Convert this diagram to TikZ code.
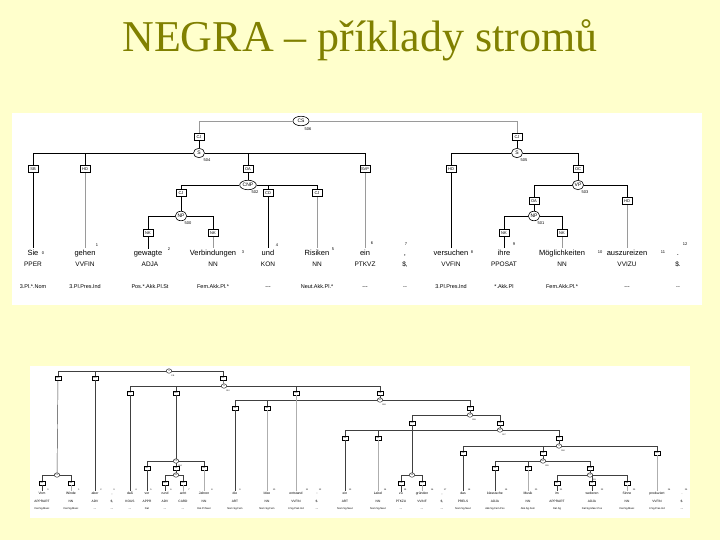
\documentclass[tikz,border=0pt]{standalone}
\usepackage{fontspec}
\setmainfont{Liberation Serif}
\newfontfamily\trf{Liberation Sans}
\usetikzlibrary{shapes.geometric}
\definecolor{bgy}{HTML}{FFFFCC}
\definecolor{olv}{HTML}{808000}
\definecolor{lg}{HTML}{9A9A9A}
\tikzset{
 ubox/.style={draw, fill=white, line width=0.6pt, inner sep=0.8pt, minimum width=10pt, minimum height=7.5pt, font=\trf\fontsize{4}{4}\selectfont},
 ucat/.style={draw, ellipse, fill=white, line width=0.6pt, inner sep=0.6pt, minimum width=11pt, minimum height=9.5pt, font=\trf\fontsize{5}{5}\selectfont},
 unum/.style={font=\trf\fontsize{4}{4}\selectfont, inner sep=0pt},
 uword/.style={font=\trf\fontsize{7.5}{7.5}\selectfont, inner sep=1pt, anchor=base},
 upos/.style={font=\trf\fontsize{6.5}{6.5}\selectfont, inner sep=0pt, anchor=base},
 umor/.style={font=\trf\fontsize{5.5}{5.5}\selectfont, inner sep=0pt, anchor=base},
 uidx/.style={font=\trf\fontsize{4}{4}\selectfont, inner sep=0pt},
 ue/.style={line width=0.9pt, black},
 ueg/.style={line width=0.9pt, lg},
 uet/.style={line width=0.5pt, lg},
 lbox/.style={draw, fill=white, line width=0.35pt, inner sep=0.4pt, minimum width=5.5pt, minimum height=4pt, font=\trf\fontsize{2}{2}\selectfont},
 lcat/.style={draw, ellipse, fill=white, line width=0.35pt, inner sep=0.4pt, minimum width=5.5pt, minimum height=4.5pt, font=\trf\fontsize{2.2}{2.2}\selectfont},
 lnum/.style={font=\trf\fontsize{2}{2}\selectfont, inner sep=0pt},
 lword/.style={font=\trf\fontsize{3.4}{3.4}\selectfont, inner sep=0.5pt, anchor=base},
 lpos/.style={font=\trf\fontsize{3.2}{3.2}\selectfont, inner sep=0pt, anchor=base},
 lmor/.style={font=\trf\fontsize{2.6}{2.6}\selectfont, inner sep=0pt, anchor=base},
 lidx/.style={font=\trf\fontsize{2.2}{2.2}\selectfont, inner sep=0pt},
 le/.style={line width=0.45pt, black!75},
 leg/.style={line width=0.45pt, lg!80},
}
\begin{document}
\begin{tikzpicture}[x=1pt,y=-1pt]
\useasboundingbox (0,0) rectangle (720,540);
\fill[bgy] (0,0) rectangle (720,540);
\node[font=\fontsize{44}{44}\selectfont, text=olv, anchor=base, inner sep=0pt] (title) at (360,52) {NEGRA – příklady stromů};
\fill[white] (12,113) rectangle (702,305);
\fill[white] (30,366) rectangle (690,518);

% ================= upper tree =================
% words
\node[uword] (w0) at (33,255) {Sie};
\node[uword] (w1) at (85,255) {gehen};
\node[uword] (w2) at (148,255) {gewagte};
\node[uword] (w3) at (213,255) {Verbindungen};
\node[uword] (w4) at (268,255) {und};
\node[uword] (w5) at (317,255) {Risiken};
\node[uword] (w6) at (365,255) {ein};
\node[uword] (w7) at (405,255) {,};
\node[uword] (w8) at (451,255) {versuchen};
\node[uword] (w9) at (504,255) {ihre};
\node[uword] (w10) at (562,255) {Möglichkeiten};
\node[uword] (w11) at (627,255) {auszureizen};
\node[uword] (w12) at (678,255) {.};
% POS
\node[upos] (p0) at (33,266) {PPER};
\node[upos] (p1) at (85,266) {VVFIN};
\node[upos] (p2) at (150,266) {ADJA};
\node[upos] (p3) at (213,266) {NN};
\node[upos] (p4) at (268,266) {KON};
\node[upos] (p5) at (317,266) {NN};
\node[upos] (p6) at (365,266) {PTKVZ};
\node[upos] (p7) at (405,266) {\$,};
\node[upos] (p8) at (451,266) {VVFIN};
\node[upos] (p9) at (504,266) {PPOSAT};
\node[upos] (p10) at (562,266) {NN};
\node[upos] (p11) at (627,266) {VVIZU};
\node[upos] (p12) at (678,266) {\$.};
% morphology
\node[umor] (m0) at (33,288) {3.Pl.*.Nom};
\node[umor] (m1) at (85,288) {3.Pl.Pres.Ind};
\node[umor] (m2) at (150,288) {Pos.*.Akk.Pl.St};
\node[umor] (m3) at (213,288) {Fem.Akk.Pl.*};
\node[umor] (m4) at (268,288) {---};
\node[umor] (m5) at (317,288) {Neut.Akk.Pl.*};
\node[umor] (m6) at (365,288) {---};
\node[umor] (m7) at (405,288) {-{}-};
\node[umor] (m8) at (451,288) {3.Pl.Pres.Ind};
\node[umor] (m9) at (504,288) {*.Akk.Pl};
\node[umor] (m10) at (562,288) {Fem.Akk.Pl.*};
\node[umor] (m11) at (627,288) {---};
\node[umor] (m12) at (678,288) {-{}-};
% indices
\node[uidx] (i0) at (43,253) {0};
\node[uidx] (i1) at (97,245) {1};
\node[uidx] (i2) at (169,249) {2};
\node[uidx] (i3) at (243,252) {3};
\node[uidx] (i4) at (277,245) {4};
\node[uidx] (i5) at (333,249) {5};
\node[uidx] (i6) at (372,243) {6};
\node[uidx] (i7) at (406,244) {7};
\node[uidx] (i8) at (472,252) {8};
\node[uidx] (i9) at (514,244) {9};
\node[uidx] (i10) at (600,252) {10};
\node[uidx] (i11) at (663,252) {11};
\node[uidx] (i12) at (685,244) {12};

% inner nodes
\node[ucat, minimum width=16pt] (CS) at (301,121) {CS};
\node[unum] at (308,129) {506};
\node[ubox] (cj1) at (199,137) {CJ};
\node[ubox] (cj2) at (517,137) {CJ};
\node[ucat] (S1) at (199,153) {S};
\node[unum] at (207,160) {504};
\node[ucat] (S2) at (517,153) {S};
\node[unum] at (524,160) {505};
\node[ubox] (sb) at (33,169) {SB};
\node[ubox] (hd1) at (85,169) {HD};
\node[ubox] (oa1) at (248,169) {OA};
\node[ubox] (svp) at (365,169) {SVP};
\node[ucat] (CNP) at (248,185) {CNP};
\node[unum] at (255,192) {502};
\node[ubox] (cj3) at (181,193) {CJ};
\node[ubox] (cd) at (268,193) {CD};
\node[ubox] (cj4) at (317,193) {CJ};
\node[ucat] (NP1) at (181,216) {NP};
\node[unum] at (188,223) {500};
\node[ubox] (nk1) at (148,233) {NK};
\node[ubox] (nk2) at (213,233) {NK};
\node[ubox] (hd2) at (451,169) {HD};
\node[ubox] (oc) at (578,169) {OC};
\node[ucat] (VP) at (578,185) {VP};
\node[unum] at (585,192) {503};
\node[ubox] (oa2) at (534,201) {OA};
\node[ubox] (hd3) at (627,201) {HD};
\node[ucat] (NP2) at (534,216) {NP};
\node[unum] at (541,223) {501};
\node[ubox] (nk3) at (504,233) {NK};
\node[ubox] (nk4) at (562,233) {NK};

% edges
\draw[uet] (CS) -| (cj1);
\draw[uet] (CS) -| (cj2);
\draw[ue] (cj1) -- (S1);
\draw[ue] (cj2) -- (S2);
\draw[ue] (S1) -| (sb);
\draw[ue] (S1) -| (hd1);
\draw[ue] (S1) -| (oa1);
\draw[ue] (S1) -| (svp);
\draw[ue] (oa1) -- (CNP);
\draw[ue] (CNP) -| (cj3);
\draw[ue] (CNP) -| (cd);
\draw[ue] (CNP) -| (cj4);
\draw[ue] (cj3) -- (NP1);
\draw[ue] (NP1) -| (nk1);
\draw[ue] (NP1) -| (nk2);
\draw[ue] (S2) -| (hd2);
\draw[ue] (S2) -| (oc);
\draw[ue] (oc) -- (VP);
\draw[ue] (VP) -| (oa2);
\draw[ue] (VP) -| (hd3);
\draw[ue] (oa2) -- (NP2);
\draw[ue] (NP2) -| (nk3);
\draw[ue] (NP2) -| (nk4);
% to words
\draw[ue] (sb) -- (w0);
\draw[ueg] (hd1) -- (w1);
\draw[ue] (nk1) -- (w2);
\draw[ueg] (nk2) -- (w3);
\draw[ue] (cd) -- (w4);
\draw[ueg] (cj4) -- (w5);
\draw[ueg] (svp) -- (w6);
\draw[ue] (hd2) -- (w8);
\draw[ue] (nk3) -- (w9);
\draw[ueg] (nk4) -- (w10);
\draw[ueg] (hd3) -- (w11);

% ================= lower tree =================
% words
\node[lword] (a0) at (42,494) {Vom};
\node[lword] (a1) at (71,494) {Winde};
\node[lword] (a2) at (95,494) {aber};
\node[lword] (a3) at (112,494) {,};
\node[lword] (a4) at (130,494) {daß};
\node[lword] (a5) at (147,494) {vor};
\node[lword] (a6) at (165,494) {rund};
\node[lword] (a7) at (183,494) {acht};
\node[lword] (a8) at (204,494) {Jahren};
\node[lword] (a9) at (235,494) {die};
\node[lword] (a10) at (267,494) {Idee};
\node[lword] (a11) at (296,494) {entstand};
\node[lword] (a12) at (317,494) {:};
\node[lword] (a13) at (345,494) {ein};
\node[lword] (a14) at (378,494) {Label};
\node[lword] (a15) at (401,494) {zu};
\node[lword] (a16) at (422,494) {gründen};
\node[lword] (a17) at (442,494) {,};
\node[lword] (a18) at (463,494) {das};
\node[lword] (a19) at (495,494) {klassische};
\node[lword] (a20) at (528,494) {Musik};
\node[lword] (a21) at (557,494) {im};
\node[lword] (a22) at (592,494) {weiteren};
\node[lword] (a23) at (627,494) {Sinne};
\node[lword] (a24) at (657,494) {produziert};
\node[lword] (a25) at (682,494) {.};
% POS
\node[lpos] (b0) at (42,502) {APPRART};
\node[lpos] (b1) at (71,502) {NN};
\node[lpos] (b2) at (95,502) {ADV};
\node[lpos] (b3) at (112,502) {\$,};
\node[lpos] (b4) at (130,502) {KOUS};
\node[lpos] (b5) at (147,502) {APPR};
\node[lpos] (b6) at (165,502) {ADV};
\node[lpos] (b7) at (183,502) {CARD};
\node[lpos] (b8) at (204,502) {NN};
\node[lpos] (b9) at (235,502) {ART};
\node[lpos] (b10) at (267,502) {NN};
\node[lpos] (b11) at (296,502) {VVFIN};
\node[lpos] (b12) at (317,502) {\$.};
\node[lpos] (b13) at (345,502) {ART};
\node[lpos] (b14) at (378,502) {NN};
\node[lpos] (b15) at (401,502) {PTKZU};
\node[lpos] (b16) at (422,502) {VVINF};
\node[lpos] (b17) at (442,502) {\$,};
\node[lpos] (b18) at (463,502) {PRELS};
\node[lpos] (b19) at (495,502) {ADJA};
\node[lpos] (b20) at (528,502) {NN};
\node[lpos] (b21) at (557,502) {APPRART};
\node[lpos] (b22) at (592,502) {ADJA};
\node[lpos] (b23) at (627,502) {NN};
\node[lpos] (b24) at (657,502) {VVFIN};
\node[lpos] (b25) at (682,502) {\$.};
% morphology
\node[lmor] (c0) at (42,509) {Dat.Sg.Masc};
\node[lmor] (c1) at (71,509) {Dat.Sg.Masc};
\node[lmor] (c2) at (95,509) {---};
\node[lmor] (c3) at (112,509) {---};
\node[lmor] (c4) at (130,509) {---};
\node[lmor] (c5) at (147,509) {Dat};
\node[lmor] (c6) at (165,509) {---};
\node[lmor] (c7) at (183,509) {---};
\node[lmor] (c8) at (204,509) {Dat.Pl.Neut};
\node[lmor] (c9) at (235,509) {Nom.Sg.Fem};
\node[lmor] (c10) at (267,509) {Nom.Sg.Fem};
\node[lmor] (c11) at (296,509) {3.Sg.Past.Ind};
\node[lmor] (c12) at (317,509) {---};
\node[lmor] (c13) at (345,509) {Nom.Sg.Neut};
\node[lmor] (c14) at (378,509) {Nom.Sg.Neut};
\node[lmor] (c15) at (401,509) {---};
\node[lmor] (c16) at (422,509) {---};
\node[lmor] (c17) at (442,509) {---};
\node[lmor] (c18) at (463,509) {Nom.Sg.Neut};
\node[lmor] (c19) at (495,509) {Akk.Sg.Fem.Pos};
\node[lmor] (c20) at (528,509) {Akk.Sg.Fem};
\node[lmor] (c21) at (557,509) {Dat.Sg};
\node[lmor] (c22) at (592,509) {Dat.Sg.Masc.Pos};
\node[lmor] (c23) at (627,509) {Dat.Sg.Masc};
\node[lmor] (c24) at (657,509) {3.Sg.Pres.Ind};
\node[lmor] (c25) at (682,509) {---};
% indices
\foreach \x/\n in {48/0,79/1,101/2,114/3,136/4,151/5,171/6,189/7,212/8,240/9,274/10,307/11,320/12,350/13,385/14,405/15,432/16,445/17,469/18,506/19,536/20,561/21,602/22,634/23,669/24,686/25}
  \node[lidx] (x\n) at (\x,490) {\n};

% inner nodes
\node[lcat] (r0) at (169,371) {S};
\node[lnum] at (173,376) {511};
\node[lbox] (l1) at (58,378) {MO};
\node[lbox] (l2) at (95,378) {MO};
\node[lbox] (l3) at (223,378) {OC};
\node[lcat] (pp1) at (57,475) {PP};
\node[lbox] (q0) at (42,483) {AC};
\node[lbox] (q1) at (71,483) {NK};
\node[lcat] (s2) at (224,386) {S};
\node[lnum] at (228,391) {510};
\node[lbox] (k1) at (130,393) {CP};
\node[lbox] (k2) at (176,393) {MO};
\node[lbox] (k3) at (296,393) {HD};
\node[lbox] (k4) at (380,393) {SB};
\node[lcat] (n1) at (176,461) {PP};
\node[lnum] at (180,466) {504};
\node[lbox] (q5) at (147,468) {AC};
\node[lbox] (qa) at (176,468) {NK};
\node[lbox] (q8) at (204,468) {NK};
\node[lcat] (ap) at (176,475) {AP};
\node[lbox] (q6) at (165,483) {MO};
\node[lbox] (q7) at (183,483) {HD};
\node[lcat] (n2) at (380,400) {NP};
\node[lnum] at (384,405) {509};
\node[lbox] (q9) at (235,408) {NK};
\node[lbox] (q10) at (267,408) {NK};
\node[lbox] (kv) at (470,408) {OC};
\node[lcat] (v1) at (470,415) {VP};
\node[lnum] at (474,420) {508};
\node[lbox] (kz) at (412,423) {HD};
\node[lbox] (ko) at (500,423) {OA};
\node[lcat] (z1) at (412,475) {VZ};
\node[lbox] (q15) at (401,483) {PM};
\node[lbox] (q16) at (422,483) {HD};
\node[lcat] (n3) at (500,430) {NP};
\node[lnum] at (504,435) {507};
\node[lbox] (q13) at (345,438) {NK};
\node[lbox] (q14) at (378,438) {NK};
\node[lbox] (kr) at (559,438) {RC};
\node[lcat] (s3) at (559,446) {S};
\node[lnum] at (563,451) {506};
\node[lbox] (q18) at (463,453) {SB};
\node[lbox] (kn) at (543,453) {OA};
\node[lbox] (q24) at (657,453) {HD};
\node[lcat] (n4) at (543,461) {NP};
\node[lnum] at (547,466) {505};
\node[lbox] (q19) at (495,468) {NK};
\node[lbox] (q20) at (528,468) {NK};
\node[lbox] (km) at (590,468) {MNR};
\node[lcat] (pp2) at (590,475) {PP};
\node[lnum] at (594,480) {503};
\node[lbox] (q21) at (557,483) {AC};
\node[lbox] (q22) at (592,483) {NK};
\node[lbox] (q23) at (627,483) {NK};

% edges
\draw[le] (r0) -| (l1);
\draw[le] (r0) -| (l2);
\draw[le] (r0) -| (l3);
\draw[le] (l1) -- (pp1);
\draw[le] (pp1) -| (q0);
\draw[le] (pp1) -| (q1);
\draw[le] (l3) -- (s2);
\draw[le] (s2) -| (k1);
\draw[le] (s2) -| (k2);
\draw[le] (s2) -| (k3);
\draw[le] (s2) -| (k4);
\draw[le] (k2) -- (n1);
\draw[le] (n1) -| (q5);
\draw[le] (n1) -- (qa);
\draw[le] (n1) -| (q8);
\draw[le] (qa) -- (ap);
\draw[le] (ap) -| (q6);
\draw[le] (ap) -| (q7);
\draw[le] (k4) -- (n2);
\draw[le] (n2) -| (q9);
\draw[le] (n2) -| (q10);
\draw[le] (n2) -| (kv);
\draw[le] (kv) -- (v1);
\draw[le] (v1) -| (kz);
\draw[le] (v1) -| (ko);
\draw[le] (kz) -- (z1);
\draw[le] (z1) -| (q15);
\draw[le] (z1) -| (q16);
\draw[le] (ko) -- (n3);
\draw[le] (n3) -| (q13);
\draw[le] (n3) -| (q14);
\draw[le] (n3) -| (kr);
\draw[le] (kr) -- (s3);
\draw[le] (s3) -| (q18);
\draw[le] (s3) -| (kn);
\draw[le] (s3) -| (q24);
\draw[le] (kn) -- (n4);
\draw[le] (n4) -| (q19);
\draw[le] (n4) -| (q20);
\draw[le] (n4) -| (km);
\draw[le] (km) -- (pp2);
\draw[le] (pp2) -| (q21);
\draw[le] (pp2) -| (q22);
\draw[le] (pp2) -| (q23);
% to words
\draw[le] (q0) -- (a0);
\draw[leg] (q1) -- (a1);
\draw[le] (l2) -- (a2);
\draw[le] (k1) -- (a4);
\draw[le] (q5) -- (a5);
\draw[le] (q6) -- (a6);
\draw[leg] (q7) -- (a7);
\draw[leg] (q8) -- (a8);
\draw[le] (q9) -- (a9);
\draw[leg] (q10) -- (a10);
\draw[leg] (k3) -- (a11);
\draw[le] (q13) -- (a13);
\draw[leg] (q14) -- (a14);
\draw[le] (q15) -- (a15);
\draw[leg] (q16) -- (a16);
\draw[le] (q18) -- (a18);
\draw[le] (q19) -- (a19);
\draw[leg] (q20) -- (a20);
\draw[le] (q21) -- (a21);
\draw[le] (q22) -- (a22);
\draw[leg] (q23) -- (a23);
\draw[leg] (q24) -- (a24);
\end{tikzpicture}
\end{document}
